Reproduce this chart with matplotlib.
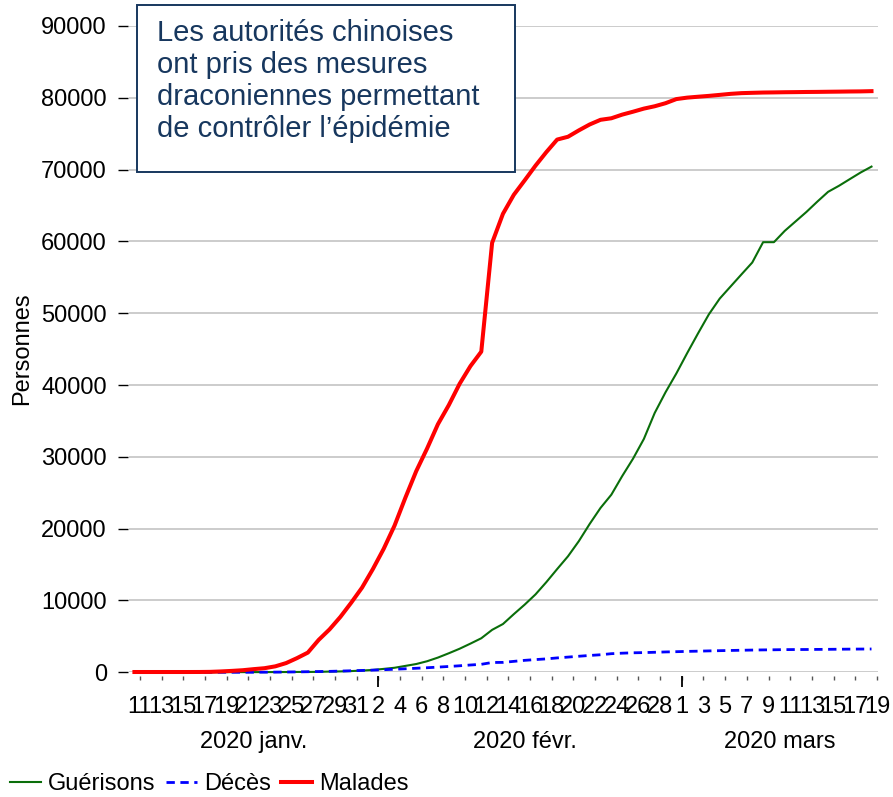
"""
Chine : cas cumulés de COVID-19 (malades, guérisons, décès), janv.-mars 2020.
"""

import matplotlib

matplotlib.use("Agg")
import matplotlib.dates as mdates
import matplotlib.pyplot as plt
import pandas as pd
from matplotlib.patches import Rectangle

plt.rcParams["font.family"] = ["Liberation Sans", "DejaVu Sans"]

# Daily values, 11 Jan -> 19 Mar 2020 (69 days)
dates = pd.date_range("2020-01-11", "2020-03-19", freq="D")

malades = [
    41, 41, 41, 41, 41, 41, 45, 62, 121, 198, 291, 440, 571, 830, 1287, 1975,
    2744, 4515, 5974, 7711, 9692,
    11791, 14380, 17205, 20438, 24324, 28018, 31161, 34546, 37198, 40171,
    42638, 44653, 59804, 63851, 66492, 68500, 70548, 72436, 74185, 74576,
    75465, 76288, 76936, 77150, 77658, 78064, 78497, 78824, 79251,
    79824, 80026, 80151, 80270, 80409, 80552, 80651, 80695, 80735, 80754,
    80778, 80793, 80813, 80824, 80844, 80860, 80881, 80894, 80928,
]
guerisons = [
    2, 2, 6, 7, 7, 12, 12, 15, 17, 25, 25, 25, 28, 34, 38, 49, 51, 60, 103,
    124, 171,
    243, 328, 475, 632, 892, 1153, 1540, 2050, 2649, 3281, 3996, 4740, 5911,
    6723, 8096, 9419, 10844, 12552, 14376, 16155, 18264, 20659, 22888, 24734,
    27323, 29745, 32495, 36117, 39002,
    41625, 44462, 47204, 49856, 52045, 53726, 55404, 57065, 59897, 59897,
    61475, 62793, 64111, 65541, 66911, 67749, 68679, 69601, 70420,
]
deces = [
    1, 1, 1, 1, 1, 2, 2, 2, 3, 3, 6, 9, 17, 25, 41, 56, 80, 106, 132, 170, 213,
    259, 304, 361, 425, 490, 563, 636, 722, 811, 908, 1016, 1113, 1367, 1380,
    1523, 1665, 1770, 1868, 2004, 2118, 2236, 2345, 2442, 2592, 2663, 2715,
    2744, 2788, 2835,
    2870, 2912, 2943, 2981, 3012, 3042, 3070, 3097, 3119, 3136, 3158, 3169,
    3176, 3189, 3199, 3213, 3226, 3237, 3245,
]

series_labels = ["Guérisons", "Décès", "Malades"]
y_ticks = [0, 10000, 20000, 30000, 40000, 50000, 60000, 70000, 80000, 90000]
tick_dates = pd.date_range("2020-01-11", "2020-03-19", freq="2D")
month_labels = ["2020 janv.", "2020 févr.", "2020 mars"]
month_spans = [
    ("2020-01-11", "2020-02-01"),
    ("2020-02-01", "2020-03-01"),
    ("2020-03-01", "2020-03-19"),
]
note = (
    "Les autorités chinoises\n"
    "ont pris des mesures\n"
    "draconiennes permettant\n"
    "de contrôler l\u2019épidémie"
)

W, H = 893, 797
NAVY = "#17375e"


def px_x(x):
    return x / W


def px_y(y):
    return 1 - y / H


def main():
    fig = plt.figure(figsize=(W / 100, H / 100), dpi=100)
    ax = fig.add_axes([px_x(129), px_y(672.3), (878 - 129) / W, (672.3 - 26) / H])

    # points sit half a day before the date tick
    x = mdates.date2num(dates.to_pydatetime()) - 0.5
    ax.plot(x, guerisons, color="#0a6e0a", linewidth=1.5, clip_on=False,
            label=series_labels[0])
    ax.plot(x, deces, color="#0000ff", linewidth=2.0, dashes=(3.0, 2.0),
            clip_on=False, label=series_labels[1])
    ax.plot(x, malades, color="#ff0000", linewidth=2.9, clip_on=False,
            label=series_labels[2])

    ax.set_ylim(0, 90000)
    ax.set_yticks(y_ticks)
    ax.set_yticklabels([str(v) for v in y_ticks])
    ax.grid(axis="y", color="#bebebe", linewidth=1.1)
    ax.set_axisbelow(True)

    tnum = mdates.date2num(tick_dates.to_pydatetime())
    ax.set_xlim(tnum[0] - 1.0, tnum[-1] + 0.1)
    ax.set_xticks(tnum)
    ax.set_xticklabels([str(d.day) for d in tick_dates])
    first_of_month = [tnum[i] for i in range(1, len(tick_dates))
                      if tick_dates[i].month != tick_dates[i - 1].month]
    ax.set_xticks(first_of_month, minor=True)
    ax.xaxis.remove_overlapping_locs = False

    for side in ["top", "right", "left", "bottom"]:
        ax.spines[side].set_visible(False)
    ax.spines["bottom"].set_position(("outward", 2.5))
    ax.spines["left"].set_position(("outward", 1))

    ax.tick_params(axis="y", length=7, width=1.0, color="black", pad=8,
                   labelsize=17)
    ax.tick_params(axis="x", which="major", length=3, width=1.0,
                   color="#555555", pad=11.5, labelsize=17)
    ax.tick_params(axis="x", which="minor", length=8, width=1.3, color="black")

    # month names under the day numbers
    for label, (start, end) in zip(month_labels, month_spans):
        a = mdates.date2num(pd.Timestamp(start).to_pydatetime())
        b = mdates.date2num(pd.Timestamp(end).to_pydatetime())
        ax.text((a + b) / 2, (672.3 - 748) / (672.3 - 26), label,
                transform=ax.get_xaxis_transform(), ha="center",
                va="baseline", fontsize=17)

    fig.text(px_x(22.5), px_y(349), "Personnes", rotation=90, ha="center",
             va="center", fontsize=17)

    # annotation box
    fig.patches.append(Rectangle(
        (px_x(137), px_y(172)), (515 - 137) / W, (172 - 5) / H,
        transform=fig.transFigure, facecolor="white", edgecolor=NAVY,
        linewidth=1.4, zorder=5))
    fig.text(px_x(157), px_y(19), note, ha="left", va="top", fontsize=21,
             color=NAVY, linespacing=1.18, zorder=6)

    fig.legend(loc="center left", bbox_to_anchor=(px_x(10), px_y(784)),
               ncol=3, frameon=False, fontsize=17, borderpad=0,
               borderaxespad=0, handlelength=1.3, handletextpad=0.3,
               columnspacing=0.45)

    fig.savefig("out.png", dpi=100)
    plt.close(fig)


if __name__ == "__main__":
    main()
